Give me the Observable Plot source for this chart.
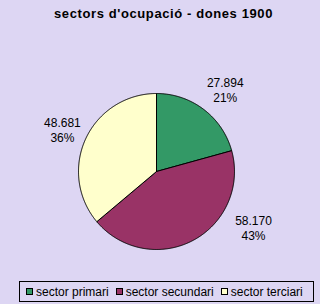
<!DOCTYPE html>
<html><head><meta charset="utf-8">
<script src="https://cdn.jsdelivr.net/npm/d3@7"></script>
<script src="https://cdn.jsdelivr.net/npm/@observablehq/plot@0.6"></script>
<style>
body{margin:0;}
#wrap{position:relative;width:320px;height:304px;background:#DDD6F3;font-family:"Liberation Sans",Arial,sans-serif;overflow:hidden;}
#title{position:absolute;left:0;top:6px;width:320px;padding-left:7px;box-sizing:border-box;text-align:center;font-weight:bold;font-size:13px;letter-spacing:0.6px;color:#000;}
#chart{position:absolute;left:0;top:30px;}
#legend{position:absolute;left:19px;top:281px;width:295px;height:21px;border:1px solid #000;box-sizing:border-box;display:flex;align-items:center;padding-left:6px;font-size:12px;color:#000;}
.item{display:flex;align-items:center;margin-right:7px;}
.sw{width:7px;height:7px;border:1px solid #000;box-sizing:border-box;margin-right:3px;}
</style></head>
<body><div id="wrap"><div id="title"></div><div id="chart"></div><div id="legend"></div></div>
<script>
const title = "sectors d'ocupació - dones 1900";
const sectors = ["sector primari", "sector secundari", "sector terciari"];
const values = [27894, 58170, 48681];
const colors = ["#339966", "#993366", "#FFFFCC"];
// layout (label placement outside the pie)
const labelAngle = [40, 120, 294];
const labelRadius = [107, 112, 103];
const R = 78;

document.getElementById("title").textContent = title;
const total = d3.sum(values);
const fmt = d3.formatLocale({decimal: ",", thousands: ".", grouping: [3], currency: ["", ""]}).format(",d");
const pie = d3.pie().sort(null).value(d => d)(values);
const pts = [];
pie.forEach((a, i) => {
  const s = sectors[i];
  pts.push({sector: s, x: 0, y: 0});
  const n = Math.max(2, Math.ceil((a.endAngle - a.startAngle) / (Math.PI / 360)));
  for (let k = 0; k <= n; k++) {
    const t = a.startAngle + (a.endAngle - a.startAngle) * k / n;
    pts.push({sector: s, x: R * Math.sin(t), y: R * Math.cos(t)});
  }
  pts.push({sector: s, x: 0, y: 0});
});
const labels = values.map((v, i) => {
  const t = labelAngle[i] * Math.PI / 180;
  return {x: labelRadius[i] * Math.sin(t), y: labelRadius[i] * Math.cos(t),
          text: fmt(v) + "\n" + Math.round(v / total * 100) + "%"};
});
const plot = Plot.plot({
  width: 320, height: 245, margin: 0,
  style: {background: "transparent", fontFamily: "'Liberation Sans', Arial, sans-serif"},
  x: {domain: [-156, 164], axis: null},
  y: {domain: [-104, 141], axis: null},
  color: {domain: sectors, range: colors},
  marks: [
    Plot.line(pts, {x: "x", y: "y", z: "sector", fill: "sector", stroke: "#000", strokeWidth: 1, curve: "linear"}),
    Plot.text(labels, {x: "x", y: "y", text: "text", fontSize: 12, lineHeight: 1.25, fill: "#000"})
  ]
});
document.getElementById("chart").appendChild(plot);
const lg = document.getElementById("legend");
sectors.forEach((s, i) => {
  const it = document.createElement("div"); it.className = "item";
  const sw = document.createElement("div"); sw.className = "sw"; sw.style.background = colors[i];
  const tx = document.createElement("span"); tx.textContent = s;
  it.appendChild(sw); it.appendChild(tx); lg.appendChild(it);
});
</script></body></html>
